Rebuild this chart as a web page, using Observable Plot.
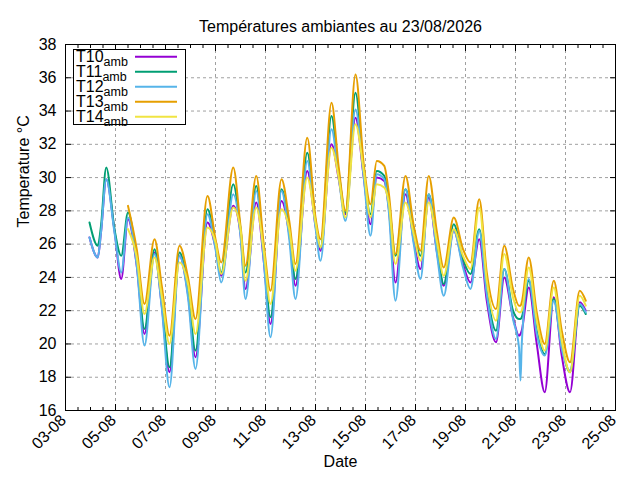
<!DOCTYPE html>
<html>
<head>
<meta charset="utf-8">
<script src="https://cdn.jsdelivr.net/npm/d3@7"></script>
<script src="https://cdn.jsdelivr.net/npm/@observablehq/plot@0.6"></script>
<style>
  html, body { margin: 0; padding: 0; background: white; }
  #chart { width: 640px; height: 480px; }
</style>
</head>
<body>
<div id="chart"></div>
<script>
// Time of each reading, as day of August 2026 (decimal: 4.5 = 4 Aug, 12:00)
const times = [3.96, 4.29, 4.42, 4.63, 4.96, 5.23, 5.50, 5.85, 6.16, 6.56,
  6.85, 7.16, 7.56, 7.90, 8.20, 8.68, 9.00, 9.23, 9.71, 10.00,
  10.20, 10.63, 10.93, 11.20, 11.64, 11.95, 12.20, 12.67, 13.00, 13.20,
  13.64, 13.93, 14.20, 14.60, 14.93, 15.20, 15.45, 15.75, 15.93, 16.20,
  16.60, 16.93, 17.20, 17.53, 17.85, 18.13, 18.53, 18.90, 19.20, 19.55,
  19.85, 20.22, 20.55, 20.90, 21.14, 21.20, 21.25, 21.53, 21.85, 22.17,
  22.53, 22.85, 23.18, 23.57, 23.81];

const T10 = [26.4, 25.2, 26.7, 29.9, 26.8, 23.9, 27.5, 24.7, 20.6, 25.5,
  22.3, 18.3, 25.3, 23.0, 19.2, 27.3, 25.8, 24.1, 28.3, 26.6,
  23.3, 28.5, 25.0, 21.2, 28.6, 26.6, 23.5, 30.4, 27.1, 25.6,
  32.0, 29.9, 27.8, 33.6, 30.0, 27.2, 30.0, 29.8, 28.2, 23.7,
  29.0, 26.2, 24.5, 28.8, 25.6, 23.5, 26.8, 24.8, 23.7, 26.3,
  22.6, 20.1, 24.0, 21.6, 20.5, 20.6, 20.8, 23.4, 20.0, 17.1,
  22.8, 19.3, 17.1, 22.5, 22.0];

const T11 = [27.3, 25.9, 27.1, 30.6, 26.9, 25.3, 27.9, 25.0, 20.9, 25.7,
  22.6, 18.6, 25.5, 23.3, 19.6, 28.1, 26.0, 24.3, 29.6, 26.9,
  24.3, 29.5, 25.4, 21.6, 29.3, 26.9, 23.9, 31.5, 27.4, 25.8,
  33.7, 30.3, 27.9, 35.1, 30.4, 27.8, 30.4, 30.1, 28.6, 25.3,
  29.3, 26.9, 25.3, 29.0, 26.0, 23.6, 27.2, 25.1, 24.2, 26.9,
  23.2, 20.8, 24.5, 22.0, 21.5, 21.5, 21.6, 23.8, 20.8, 19.4,
  22.7, 19.9, 18.3, 22.3, 21.8];

const T12 = [26.4, 25.2, 26.7, 29.9, 26.7, 24.3, 27.6, 24.7, 19.9, 25.4,
  22.2, 17.4, 25.3, 22.8, 18.5, 27.8, 25.7, 23.7, 29.0, 26.5,
  22.7, 29.2, 25.0, 20.4, 29.2, 26.3, 22.7, 31.0, 27.0, 25.0,
  32.9, 30.0, 27.4, 34.1, 30.0, 26.5, 30.2, 29.9, 28.0, 22.6,
  29.3, 26.0, 23.9, 29.0, 25.5, 22.9, 26.8, 24.6, 23.3, 26.8,
  23.0, 20.3, 24.5, 21.5, 19.8, 17.8, 20.0, 23.9, 20.6, 19.3,
  22.6, 19.7, 18.4, 22.4, 21.9];

const T13 = [null, null, null, null, null, null, 28.3, 25.7, 22.4, 26.3,
  23.5, 20.5, 25.9, 24.0, 21.5, 28.9, 26.3, 24.9, 30.6, 27.1,
  24.7, 30.1, 26.0, 23.2, 29.9, 27.4, 24.8, 32.4, 27.6, 26.3,
  34.5, 30.6, 28.0, 36.2, 30.8, 28.4, 31.0, 30.7, 29.1, 25.4,
  30.1, 27.1, 25.6, 30.1, 26.8, 24.6, 27.6, 25.7, 24.9, 28.7,
  24.3, 22.1, 25.9, 23.3, 22.3, 22.3, 22.5, 25.2, 21.9, 20.0,
  23.8, 20.8, 18.9, 23.2, 22.6];

const T14 = [null, null, null, null, null, null, 26.9, 25.2, 21.8, 25.2,
  22.9, 20.0, 24.9, 23.6, 20.6, 27.0, 26.1, 24.2, 28.2, 26.9,
  23.8, 28.2, 25.6, 22.4, 28.1, 26.9, 24.4, 30.0, 27.3, 25.8,
  31.8, 30.0, 27.6, 33.2, 30.4, 27.6, 29.6, 29.4, 28.5, 24.8,
  28.5, 26.6, 25.0, 28.5, 26.2, 24.1, 26.9, 25.3, 24.5, 28.2,
  23.8, 21.4, 25.4, 22.8, 21.9, 21.9, 22.0, 24.6, 21.4, 19.6,
  23.4, 20.2, 18.3, 22.9, 22.3];

const seriesNames = ["T10", "T11", "T12", "T13", "T14"];
const seriesValues = [T10, T11, T12, T13, T14];
const seriesColors = ["#9400d3", "#009e73", "#56b4e9", "#e69f00", "#f0e442"];

const xTickLabels = ["03-08", "05-08", "07-08", "09-08", "11-08", "13-08",
  "15-08", "17-08", "19-08", "21-08", "23-08", "25-08"];
const yTicks = [16, 18, 20, 22, 24, 26, 28, 30, 32, 34, 36, 38];

const titleText = "Températures ambiantes au 23/08/2026";
const xLabel = "Date";
const yLabel = "Temperature °C";

// ---- build tables ----
const dayToDate = (d) => new Date(Date.UTC(2026, 7, 0) + d * 86400000);
const rows = seriesNames.flatMap((name, s) =>
  times.map((t, i) => ({series: name, date: dayToDate(t), temp: seriesValues[s][i]}))
       .filter((d) => d.temp != null));

const majorTicks = xTickLabels.map((lab) => {
  const [dd, mm] = lab.split("-").map(Number);
  return {label: lab, date: new Date(Date.UTC(2026, mm - 1, dd))};
});
const majorDates = majorTicks.map((d) => d.date);
const minorDates = d3.utcHour.every(12)
  .range(majorDates[0], new Date(+majorDates[majorDates.length - 1] + 1))
  .filter((d) => !majorDates.some((m) => +m === +d));
const innerMajor = majorDates.slice(1, -1);
const innerY = yTicks.slice(1, -1);

const font = "'Liberation Sans', Arial, Helvetica, sans-serif";
const gridStyle = {stroke: "#a0a0a0", strokeOpacity: 1, strokeWidth: 1, strokeDasharray: "3,3"};

const plot = Plot.plot({
  width: 640,
  height: 480,
  marginLeft: 65,
  marginRight: 25,
  marginTop: 44,
  marginBottom: 70,
  style: {fontFamily: font, fontSize: "16px", background: "white", color: "black", overflow: "visible"},
  x: {type: "utc", domain: [majorDates[0], majorDates[majorDates.length - 1]]},
  y: {domain: [yTicks[0], yTicks[yTicks.length - 1]]},
  color: {domain: seriesNames, range: seriesColors},
  marks: [
    Plot.gridX(innerMajor, gridStyle),
    Plot.gridY(innerY, gridStyle),
    Plot.line(rows, {x: "date", y: "temp", z: "series", stroke: "series", strokeWidth: 2, curve: "monotone-x"}),
    // ticks (inward, mirrored)
    Plot.axisX(majorDates, {anchor: "bottom", tickSize: -6, fill: "none", label: null}),
    Plot.axisX(minorDates, {anchor: "bottom", tickSize: -3, fill: "none", label: null}),
    Plot.axisX(majorDates, {anchor: "top", tickSize: -6, fill: "none", label: null}),
    Plot.axisX(minorDates, {anchor: "top", tickSize: -3, fill: "none", label: null}),
    Plot.axisY(yTicks, {anchor: "left", tickSize: -6, fill: "none", label: null}),
    Plot.axisY(yTicks, {anchor: "right", tickSize: -6, fill: "none", label: null}),
    // tick labels
    Plot.text(majorTicks, {x: "date", text: "label", frameAnchor: "bottom", dy: 7, dx: -2,
      rotate: -45, textAnchor: "end", lineAnchor: "middle", fontSize: 16, fill: "black"}),
    Plot.text(yTicks, {y: (d) => d, text: (d) => String(d), frameAnchor: "left", dx: -9,
      textAnchor: "end", lineAnchor: "middle", fontSize: 16, fill: "black"}),
    // axis labels and title
    Plot.text([xLabel], {text: (d) => d, frameAnchor: "bottom", dy: 56, fontSize: 16, fill: "black"}),
    Plot.text([yLabel], {text: (d) => d, frameAnchor: "left", dx: -42, rotate: -90, fontSize: 16, fill: "black"}),
    Plot.text([titleText], {text: (d) => d, frameAnchor: "top", dy: -24, fontSize: 16, fill: "black"}),
    Plot.frame({stroke: "black", strokeWidth: 1})
  ]
});

// ---- key (legend) inside the plot area, top-left ----
const svg = d3.select(plot);
const lg = svg.append("g").attr("font-family", font).attr("font-size", 16)
  .attr("text-anchor", "start");
lg.append("rect").attr("x", 73.5).attr("y", 49.5).attr("width", 112).attr("height", 75)
  .attr("fill", "white").attr("stroke", "black").attr("stroke-width", 1);
seriesNames.forEach((name, i) => {
  const y = 56.7 + 15 * i;
  const t = lg.append("text").attr("x", 76).attr("y", y + 5).attr("fill", "black")
    .attr("text-anchor", "start");
  t.append("tspan").text(name);
  t.append("tspan").attr("font-size", 12.5).attr("dy", 4).text("amb");
  lg.append("line").attr("x1", 135).attr("x2", 177).attr("y1", y).attr("y2", y)
    .attr("stroke", seriesColors[i]).attr("stroke-width", 2);
});

document.getElementById("chart").appendChild(plot);
</script>
</body>
</html>
